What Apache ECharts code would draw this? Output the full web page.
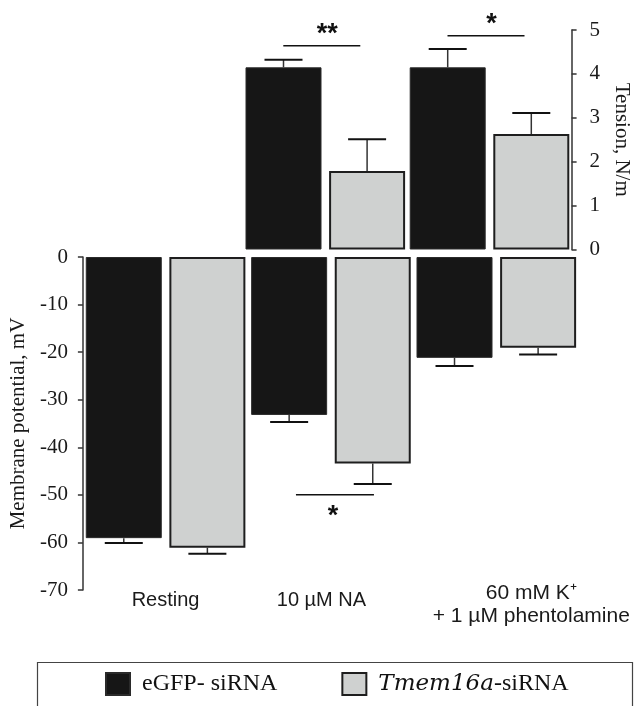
<!DOCTYPE html>
<html><head><meta charset="utf-8">
<script src="https://cdn.jsdelivr.net/npm/echarts@6/dist/echarts.min.js"></script>
<style>html,body{margin:0;padding:0;background:#fff}#c{width:640px;height:706px}</style>
</head><body><div id="c"></div>
<script>
// ---------- data ----------
const categories = ['Resting', '10 µM NA', '60 mM K⁺\n+ 1 µM phentolamine'];
const seriesNames = ['eGFP- siRNA', 'Tmem16a-siRNA'];
// Tension (N/m), upper panel
const tensionEGFP = [null, 4.15, 4.15];
const tensionEGFPErr = [null, 0.17, 0.42];
const tensionTmem = [null, 1.79, 2.63];
const tensionTmemErr = [null, 0.72, 0.48];
// Membrane potential (mV), lower panel
const potentialEGFP = [-59.1, -33.2, -21.2];
const potentialEGFPErr = [1.0, 1.5, 1.7];
const potentialTmem = [-61.1, -43.4, -19.1];
const potentialTmemErr = [1.3, 4.3, 1.4];
// tick labels
const tensionTicks = ['0', '1', '2', '3', '4', '5'];
const potentialTicks = ['-70', '-60', '-50', '-40', '-30', '-20', '-10', '0'];
// significance brackets: [category index, level, label]
const tensionSig = [[1, 4.64, '**'], [2, 4.87, '*']];
const potentialSig = [[1, -50.0, '*']];

// ---------- styles ----------
const BAR_W = 76;
const BAR_OFF = (BAR_W + BAR_W * 0.1) / 2;
const CAP = 38;
const BLACK = '#161616';
const GRAY = '#cfd1d0';
const SERIF = '"Liberation Serif", "Times New Roman", serif';
const SANS = '"Liberation Sans", Arial, sans-serif';

const chart = echarts.init(document.getElementById('c'), null, {renderer: 'canvas'});

function errData(means, errs, side) {
  const out = [];
  means.forEach((m, i) => { if (m != null) out.push([i, m, errs[i], side]); });
  return out;
}
function errRender(params, api) {
  const cat = api.value(0), mean = api.value(1), err = api.value(2), side = api.value(3);
  const base = api.coord([cat, mean]);
  const tip = api.coord([cat, mean + Math.sign(mean) * err]);
  const x = base[0] + (side === 0 ? -BAR_OFF : BAR_OFF);
  return {type: 'group', children: [
    {type: 'line', shape: {x1: x, y1: base[1], x2: x, y2: tip[1]}, style: {stroke: '#333', lineWidth: 1.5}},
    {type: 'line', shape: {x1: x - CAP / 2, y1: tip[1], x2: x + CAP / 2, y2: tip[1]}, style: {stroke: '#111', lineWidth: 2}}
  ]};
}
function sigRenderFactory(list, above) {
  return function (params, api) {
    const cat = api.value(0), lvl = api.value(1);
    const p = api.coord([cat, lvl]);
    const label = list[params.dataIndex][2];
    const x1 = above ? p[0] - 42 : p[0] - 35;
    const x2 = above ? p[0] + 35 : p[0] + 43;
    const ty = above ? p[1] - 17 + 6 : p[1] + 16 + 6;
    return {type: 'group', children: [
      {type: 'line', shape: {x1: x1, y1: p[1], x2: x2, y2: p[1]}, style: {stroke: '#111', lineWidth: 1.5}},
      {type: 'text', x: p[0] + 2, y: ty, style: {text: label, fill: '#111', font: 'bold 27px ' + SANS,
        align: 'center', verticalAlign: 'middle', textAlign: 'center', textVerticalAlign: 'middle'}}
    ]};
  };
}

const option = {
  animation: false,
  backgroundColor: '#fff',
  grid: [
    {left: 79, right: 61, top: 30, height: 219.5},
    {left: 79, right: 61, top: 257, height: 333}
  ],
  graphic: [
    {type: 'rect', left: 35, top: 660, silent: true, z: -1,
      shape: {width: 595, height: 70},
      style: {fill: 'none', stroke: '#444', lineWidth: 1.2}}
  ],
  xAxis: [
    {gridIndex: 0, type: 'category', data: categories, show: false},
    {gridIndex: 1, type: 'category', data: categories, position: 'bottom',
      axisLine: {show: false, onZero: false}, axisTick: {show: false},
      axisLabel: {
        margin: -8, interval: 0, color: '#1a1a1a', fontFamily: SANS, fontSize: 20, verticalAlign: 'top',
        formatter: function (v, i) {
          if (i === 0) return '{one|' + v + '}';
          if (i === 1) return '{oneL|' + v + '}';
          return v.split('\n').map(l => '{shiftR|' + l + '}').join('\n');
        },
        rich: {
          one: {lineHeight: 37, fontSize: 20, fontFamily: SANS, color: '#1a1a1a'},
          oneL: {lineHeight: 37, fontSize: 20, fontFamily: SANS, color: '#1a1a1a', padding: [0, 19, 0, 0]},
          shiftR: {lineHeight: 23, fontSize: 21, fontFamily: SANS, color: '#1a1a1a', padding: [0, 0, 0, 70]}
        }
      }}
  ],
  yAxis: [
    {gridIndex: 0, type: 'value', position: 'right',
      min: Number(tensionTicks[0]), max: Number(tensionTicks[tensionTicks.length - 1]),
      interval: Number(tensionTicks[1]) - Number(tensionTicks[0]),
      name: 'Tension, N/m', nameLocation: 'middle', nameRotate: -90, nameGap: 34,
      nameTextStyle: {fontFamily: SERIF, fontSize: 21, color: '#1a1a1a'},
      splitLine: {show: false},
      axisLine: {show: true, lineStyle: {color: '#333', width: 1.5}},
      axisTick: {show: true, length: 5, lineStyle: {color: '#333', width: 1.5}},
      axisLabel: {margin: 18, fontFamily: SERIF, fontSize: 21, color: '#1a1a1a',
        formatter: v => tensionTicks[Math.round(v)]}},
    {gridIndex: 1, type: 'value', position: 'left',
      min: Number(potentialTicks[0]), max: Number(potentialTicks[potentialTicks.length - 1]),
      interval: Number(potentialTicks[1]) - Number(potentialTicks[0]),
      name: 'Membrane potential, mV', nameLocation: 'middle', nameRotate: 90, nameGap: 52,
      nameTextStyle: {fontFamily: SERIF, fontSize: 21, color: '#1a1a1a', padding: [0, 0, 0, 0]},
      splitLine: {show: false},
      axisLine: {show: true, lineStyle: {color: '#333', width: 1.5}},
      axisTick: {show: true, length: 5, lineStyle: {color: '#333', width: 1.5}},
      axisLabel: {margin: 15, fontFamily: SERIF, fontSize: 21, color: '#1a1a1a'}}
  ],
  legend: {
    left: 35, top: 660,
    data: seriesNames,
    itemWidth: 24, itemHeight: 22, itemGap: 64,
    padding: [12, 40, 30, 70],
    borderWidth: 0,
    icon: 'rect',
    formatter: n => n === 'Tmem16a-siRNA' ? '{i|Tmem16a}-siRNA' : n,
    textStyle: {fontFamily: SERIF, fontSize: 24, color: '#111', padding: [0, 0, 0, 7],
      rich: {i: {fontFamily: '"DejaVu Serif", serif', fontSize: 23, fontStyle: 'italic', color: '#111'}}}
  },
  series: [
    {name: seriesNames[0], type: 'bar', xAxisIndex: 0, yAxisIndex: 0, data: tensionEGFP,
      barWidth: BAR_W, barGap: '10%', itemStyle: {color: BLACK, borderColor: '#2a2a2a', borderWidth: 1}},
    {name: seriesNames[1], type: 'bar', xAxisIndex: 0, yAxisIndex: 0, data: tensionTmem,
      barWidth: BAR_W, barGap: '10%', itemStyle: {color: GRAY, borderColor: '#1e1e1e', borderWidth: 2}},
    {name: seriesNames[0], type: 'bar', xAxisIndex: 1, yAxisIndex: 1, data: potentialEGFP,
      barWidth: BAR_W, barGap: '10%', itemStyle: {color: BLACK, borderColor: '#2a2a2a', borderWidth: 1}},
    {name: seriesNames[1], type: 'bar', xAxisIndex: 1, yAxisIndex: 1, data: potentialTmem,
      barWidth: BAR_W, barGap: '10%', itemStyle: {color: GRAY, borderColor: '#1e1e1e', borderWidth: 2}},
    {name: 'errTension', type: 'custom', xAxisIndex: 0, yAxisIndex: 0, clip: false,
      data: errData(tensionEGFP, tensionEGFPErr, 0).concat(errData(tensionTmem, tensionTmemErr, 1)),
      encode: {x: 0, y: 1}, renderItem: errRender, z: 5},
    {name: 'errPotential', type: 'custom', xAxisIndex: 1, yAxisIndex: 1, clip: false,
      data: errData(potentialEGFP, potentialEGFPErr, 0).concat(errData(potentialTmem, potentialTmemErr, 1)),
      encode: {x: 0, y: 1}, renderItem: errRender, z: 5},
    {name: 'sigTension', type: 'custom', xAxisIndex: 0, yAxisIndex: 0, clip: false,
      data: tensionSig.map(d => [d[0], d[1]]), encode: {x: 0, y: 1},
      renderItem: sigRenderFactory(tensionSig, true), z: 6},
    {name: 'sigPotential', type: 'custom', xAxisIndex: 1, yAxisIndex: 1, clip: false,
      data: potentialSig.map(d => [d[0], d[1]]), encode: {x: 0, y: 1},
      renderItem: sigRenderFactory(potentialSig, false), z: 6}
  ]
};
chart.setOption(option);
</script>
</body></html>
